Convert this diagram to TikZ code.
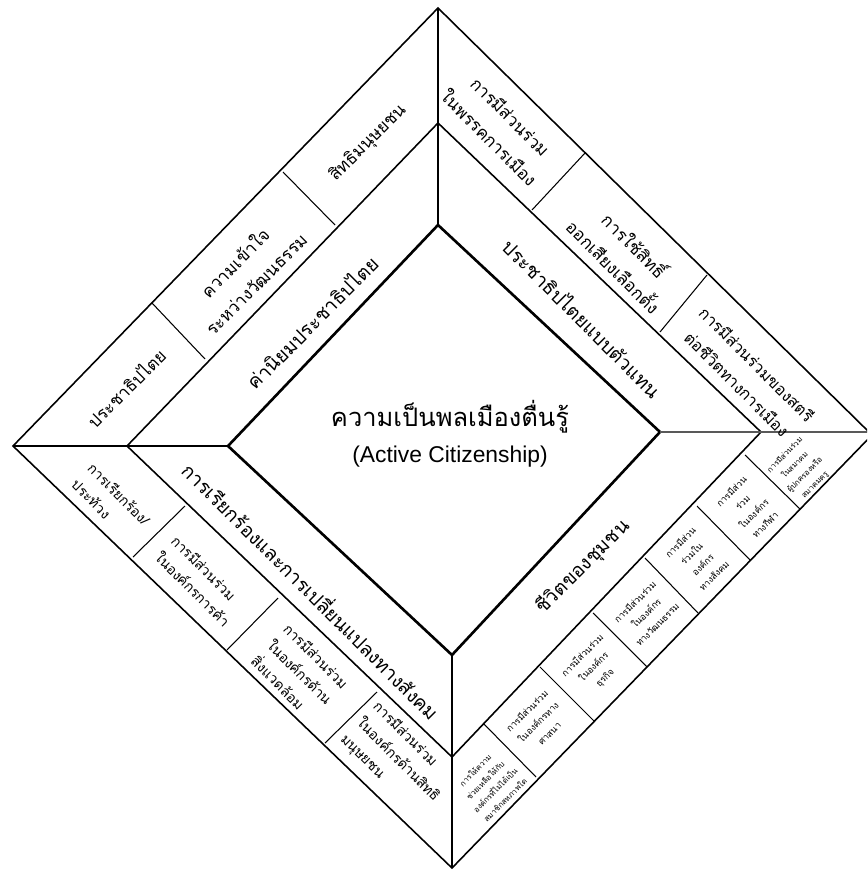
\documentclass[tikz,border=0pt]{standalone}
\usepackage{fontspec}
\setmainfont{Liberation Sans}
\newfontfamily\thaifont[Script=Thai]{Loma}
\usetikzlibrary{positioning}

\begin{document}
\begin{tikzpicture}[x=0.02cm, y=-0.02cm,
    edge/.style={line width=0.9pt, line join=miter},
    core/.style={line width=1.5pt, line join=miter},
    divider/.style={line width=0.6pt},
    axisgray/.style={line width=1.1pt, black!65},
    band/.style={font=\thaifont\fontsize{11}{14}\selectfont, inner sep=0pt},
    cell/.style={font=\thaifont\fontsize{9.8}{17}\selectfont, align=center, inner sep=0pt},
    lowcell/.style={font=\thaifont\fontsize{8}{13}\selectfont, align=left, inner sep=0pt},
    small/.style={font=\thaifont\fontsize{5.2}{9}\selectfont, align=center, inner sep=0pt},
    tiny/.style={font=\thaifont\fontsize{4.4}{8}\selectfont, align=center, inner sep=0pt}]
  \useasboundingbox (0,0) rectangle (867,871);
  \clip (0,0) rectangle (867,871);

  % --- Diamond corners (outer, middle, inner) ---
  \coordinate (OT) at (438,8);
  \coordinate (OL) at (13,446);
  \coordinate (OB) at (452,868);
  \coordinate (OR) at (872,435);
  \coordinate (MT) at (438,123);
  \coordinate (ML) at (127,446);
  \coordinate (MB) at (452,757);
  \coordinate (MR) at (761,432);
  \coordinate (IT) at (438,225);
  \coordinate (IL) at (228,446);
  \coordinate (IB) at (452,655);
  \coordinate (IR) at (660,432);
  \coordinate (RE) at (869,432);

  % --- Diamonds ---
  \draw[edge] (OT) -- (OR) -- (OB) -- (OL) -- cycle;
  \draw[edge] (MT) -- (MR) -- (MB) -- (ML) -- cycle;
  \draw[core] (IT) -- (IR) -- (IB) -- (IL) -- cycle;

  % --- Axes between the quarters ---
  \draw[divider] (OT) -- (IT);
  \draw[divider] (OL) -- (IL);
  \draw[divider] (OB) -- (IB);
  \draw[axisgray] (IR) -- (RE);

  % --- Cell dividers in the outer ring ---
  \foreach \a/\b in {{(152,303)}/{(205,359)}, {(283,172)}/{(335,225)},
                     {(585,153)}/{(532,210)}, {(707,275)}/{(660,332)},
                     {(185,506)}/{(133,557)}, {(278,598)}/{(227,650)},
                     {(377,692)}/{(325,743)},
                     {(483,723)}/{(536,777)}, {(540,667)}/{(595,722)},
                     {(593,613)}/{(647,667)}, {(645,558)}/{(698,613)},
                     {(697,506)}/{(750,560)}, {(745,455)}/{(800,509)}}
    \draw[divider] \a -- \b;

  % --- Centre ---
  \node[font=\thaifont\fontsize{14.5}{18}\selectfont, inner sep=0pt] (title) at (450,417) {ความเป็นพลเมืองตื่นรู้};
  \node[font=\fontsize{13}{15}\selectfont, inner sep=0pt, below=7pt of title] (subtitle) {(Active Citizenship)};

  % --- Middle ring ---
  \node[band, rotate=45] (values) at (312,322) {ค่านิยมประชาธิปไตย};
  \node[band, rotate=-45] (represent) at (582,318) {ประชาธิปไตยแบบตัวแทน};
  \node[band, rotate=-45] (change) at (312,590) {การเรียกร้องและการเปลี่ยนแปลงทางสังคม};
  \node[band, rotate=45] (community) at (583,567) {ชีวิตของชุมชน};

  % --- Outer ring, top left ---
  \node[cell, rotate=45] (democracy) at (126,388) {ประชาธิปไตย};
  \node[cell, rotate=45] (culture) at (245,273) {ความเข้าใจ\\ระหว่างวัฒนธรรม};
  \node[cell, rotate=45] (rights) at (368,143) {สิทธิมนุษยชน};

  % --- Outer ring, top right ---
  \node[cell, rotate=-45] (party) at (500,127) {การมีส่วนร่วม\\ในพรรคการเมือง};
  \node[cell, rotate=-45] (vote) at (625,255) {การใช้สิทธิ์\\ออกเสียงเลือกตั้ง};
  \node[cell, rotate=-45, font=\thaifont\fontsize{9.2}{16}\selectfont] (women) at (747,374) {การมีส่วนร่วมของสตรี\\ต่อชีวิตทางการเมือง};

  % --- Outer ring, bottom left ---
  \node[lowcell, rotate=-45] (protest) at (111,502) {การเรียกร้อง/\\ประท้วง};
  \node[lowcell, rotate=-45] (trade) at (201,581) {การมีส่วนร่วม\\ในองค์กรการค้า};
  \node[lowcell, rotate=-45] (environ) at (300,672) {การมีส่วนร่วม\\ในองค์กรด้าน\\สิ่งแวดล้อม};
  \node[lowcell, rotate=-45] (humanrights) at (398,760) {การมีส่วนร่วม\\ในองค์กรด้านสิทธิ\\มนุษยชน};

  % --- Outer ring, bottom right ---
  \node[tiny, rotate=45] (help) at (490,785) {การให้ความ\\ช่วยเหลือให้กับ\\องค์กรที่ไม่ได้เป็น\\สมาชิกสหภาพใด};
  \node[small, rotate=45] (religion) at (538,722) {การมีส่วนร่วม\\ในองค์กรทาง\\ศาสนา};
  \node[small, rotate=45] (business) at (594,667) {การมีส่วนร่วม\\ในองค์กร\\ธุรกิจ};
  \node[small, rotate=45] (arts) at (646,613) {การมีส่วนร่วม\\ในองค์กร\\ทางวัฒนธรรม};
  \node[small, rotate=45] (social) at (697,559) {การมีส่วน\\ร่วมใน\\องค์กร\\ทางสังคม};
  \node[small, rotate=45] (sport) at (748,508) {การมีส่วน\\ร่วม\\ในองค์กร\\ทางกีฬา};
  \node[tiny, rotate=45] (parents) at (800,470) {การมีส่วนร่วม\\ในสมาคม\\ผู้ปกครองหรือ\\สมาคมครู};
\end{tikzpicture}
\end{document}
